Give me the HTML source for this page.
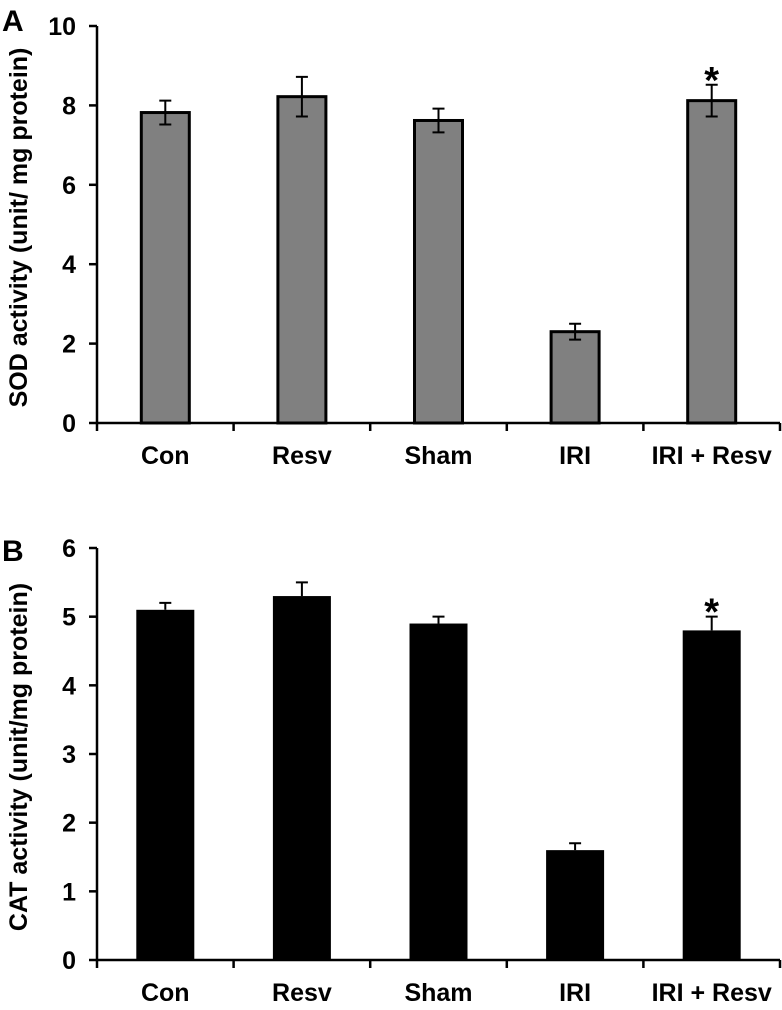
<!DOCTYPE html>
<html><head><meta charset="utf-8"><style>
html,body{margin:0;padding:0;background:#fff;}
svg{display:block;font-family:"Liberation Sans",Arial,sans-serif;font-weight:bold;}
</style></head><body>
<svg id="chart" width="782" height="1010" viewBox="0 0 782 1010"></svg>
<script>
const categories = ["Con","Resv","Sham","IRI","IRI + Resv"];
const sodValues = [7.82, 8.22, 7.62, 2.3, 8.12];
const sodErrors = [0.3, 0.5, 0.3, 0.2, 0.4];
const catValues = [5.1, 5.3, 4.9, 1.6, 4.8];
const catErrors = [0.1, 0.2, 0.1, 0.1, 0.2];
const sodTicks = [0, 2, 4, 6, 8, 10];
const catTicks = [0, 1, 2, 3, 4, 5, 6];
const sodSig = [false, false, false, false, true];
const catSig = [false, false, false, false, true];

const NS = "http://www.w3.org/2000/svg";
const svg = document.getElementById("chart");
function mk(tag, attrs, parent, text) {
  const e = document.createElementNS(NS, tag);
  for (const k in attrs) e.setAttribute(k, attrs[k]);
  if (text !== undefined) e.textContent = text;
  (parent || svg).appendChild(e);
  return e;
}

function panel(cfg) {
  const g = mk("g", {});
  
  
  const x0 = 97, x1 = 780, y0 = cfg.y0, yTop = cfg.yTop;
  const maxV = cfg.ticks[cfg.ticks.length - 1];
  const yScale = v => y0 - (v / maxV) * (y0 - yTop);
  const step = (x1 - x0) / cfg.cats.length;
  const xCenter = i => x0 + step * (i + 0.5);

  const lab = mk("text", {x: 2, y: cfg.labelY, "font-size": 30}, g, cfg.letter);
  
  

  const yt = mk("text", {x: 0, y: 0, "font-size": 25, "text-anchor": "middle",
    transform: `translate(27,${(y0 + yTop) / 2 + 3}) rotate(-90)`}, g, cfg.yTitle);
  
  

  cfg.cats.forEach((c, i) => {
    const cx = xCenter(i);
    const top = yScale(cfg.values[i]);
    const bar = mk("rect", {x: cx - cfg.barW / 2, y: top, width: cfg.barW, height: y0 - top,
      fill: cfg.fill, stroke: "#000", "stroke-width": cfg.stroke}, g);
    
    
    const eTop = yScale(cfg.values[i] + cfg.errors[i]);
    const eBot = cfg.both ? yScale(cfg.values[i] - cfg.errors[i]) : top;
    const eb = mk("path", {d: `M${cx},${eTop}V${eBot}M${cx - 6},${eTop}H${cx + 6}` + (cfg.both ? `M${cx - 6},${eBot}H${cx + 6}` : ''),
      stroke: "#000", "stroke-width": 2, fill: "none"}, g);
    
    
    if (cfg.sig[i]) {
      const s = mk("text", {x: cx, y: eTop + 8, "font-size": 38, "text-anchor": "middle"}, g, "*");
      
      
    }
    const t = mk("text", {x: cx, y: cfg.catLabelY, "font-size": 25, "text-anchor": "middle"}, g, c);
    
    
  });

  const ax = mk("path", {d: `M${x0},${yTop}V${y0}H${x1}`, stroke: "#000", "stroke-width": 2.5, fill: "none"}, g);
  
  
  cfg.ticks.forEach(v => {
    const y = yScale(v);
    const tk = mk("path", {d: `M${x0 - 8},${y}H${x0}`, stroke: "#000", "stroke-width": 2.5}, g);
    
    
    const tl = mk("text", {x: 76, y: y + 9, "font-size": 25, "text-anchor": "end"}, g, String(v));
    
    
  });
  for (let i = 0; i <= cfg.cats.length; i++) {
    const x = x0 + step * i;
    const tk = mk("path", {d: `M${x},${y0}V${y0 + 8}`, stroke: "#000", "stroke-width": 2.5}, g);
    
    
  }
}

panel({name: "sod-panel", letter: "A", labelY: 31, yTitle: "SOD activity (unit/ mg protein)",
  cats: categories, values: sodValues, errors: sodErrors, ticks: sodTicks, sig: sodSig,
  y0: 423, yTop: 26, barW: 48, fill: "#808080", stroke: 3, both: true, catLabelY: 464});
panel({name: "cat-panel", letter: "B", labelY: 561, yTitle: "CAT activity (unit/mg protein)",
  cats: categories, values: catValues, errors: catErrors, ticks: catTicks, sig: catSig,
  y0: 960, yTop: 548, barW: 58, fill: "#000", stroke: 0, both: false, catLabelY: 1001});
</script>
</body></html>
